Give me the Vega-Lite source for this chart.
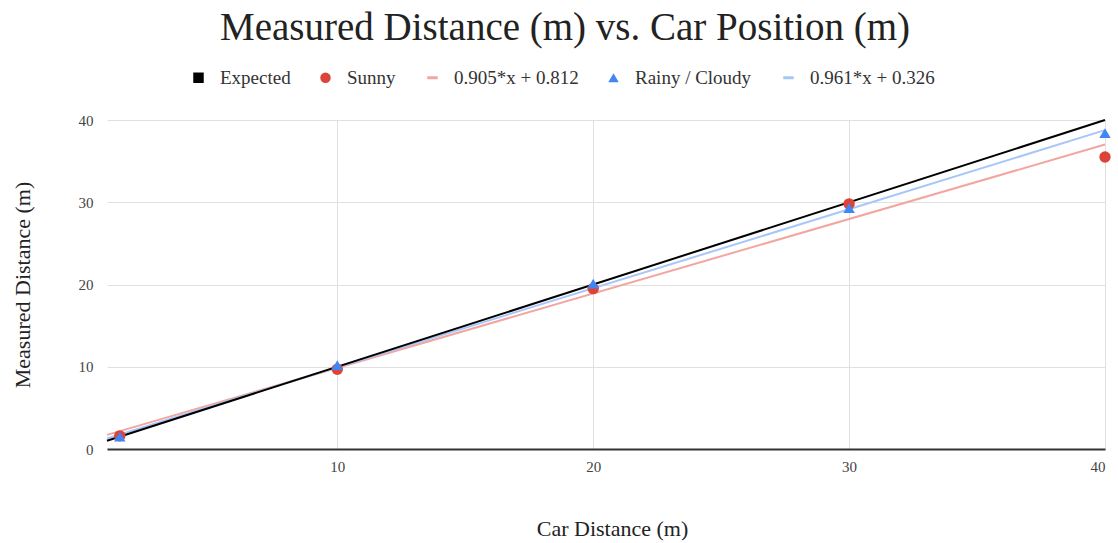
{
  "$schema": "https://vega.github.io/schema/vega-lite/v6.json",
  "autosize": {"type": "none"},
  "padding": {"left": 107, "top": 120, "right": 13, "bottom": 94},
  "width": 998,
  "height": 329,
  "background": "white",
  "title": {
    "text": "Measured Distance (m) vs. Car Position (m)",
    "font": "Liberation Serif",
    "fontSize": 39,
    "fontWeight": "normal",
    "color": "#222222",
    "anchor": "middle",
    "frame": "group",
    "dx": -41,
    "baseline": "alphabetic",
    "offset": -11
  },
  "config": {
    "view": {"stroke": null},
    "axis": {
      "labelFont": "Liberation Serif",
      "titleFont": "Liberation Serif",
      "labelFontSize": 15,
      "titleFontSize": 22,
      "titleFontWeight": "normal",
      "labelColor": "#444444",
      "titleColor": "#222222",
      "gridColor": "#e0e0e0",
      "gridWidth": 1,
      "ticks": false
    },
    "legend": {
      "labelFont": "Liberation Serif",
      "labelFontSize": 19,
      "labelColor": "#333333"
    }
  },
  "datasets": {
    "points": [
      {"x": 1.5, "y": 1.6, "series": "Sunny"},
      {"x": 10, "y": 9.7, "series": "Sunny"},
      {"x": 20, "y": 19.5, "series": "Sunny"},
      {"x": 30, "y": 29.8, "series": "Sunny"},
      {"x": 40, "y": 35.5, "series": "Sunny"},
      {"x": 1.5, "y": 1.5, "series": "Rainy / Cloudy"},
      {"x": 10, "y": 10.2, "series": "Rainy / Cloudy"},
      {"x": 20, "y": 20.1, "series": "Rainy / Cloudy"},
      {"x": 30, "y": 29.3, "series": "Rainy / Cloudy"},
      {"x": 40, "y": 38.4, "series": "Rainy / Cloudy"}
    ],
    "lines": [
      {"x": 1, "y": 1.717, "series": "0.905*x + 0.812", "order": 1},
      {"x": 40, "y": 37.012, "series": "0.905*x + 0.812", "order": 1},
      {"x": 1, "y": 1.287, "series": "0.961*x + 0.326", "order": 2},
      {"x": 40, "y": 38.766, "series": "0.961*x + 0.326", "order": 2},
      {"x": 1, "y": 1, "series": "Expected", "order": 3},
      {"x": 40, "y": 40, "series": "Expected", "order": 3}
    ]
  },
  "layer": [
    {
      "data": {"name": "lines"},
      "mark": {"type": "line", "strokeWidth": 2},
      "encoding": {
        "x": {
          "field": "x", "type": "quantitative",
          "scale": {"domain": [1, 40], "nice": false, "zero": false},
          "axis": {
            "title": "Car Distance (m)",
            "values": [10, 20, 30, 40],
            "labelPadding": 10,
            "domainColor": "#333333",
            "domainWidth": 2,
            "titleY": 79,
            "titleBaseline": "middle",
            "titleX": 505
          }
        },
        "y": {
          "field": "y", "type": "quantitative",
          "scale": {"domain": [0, 40], "nice": false},
          "axis": {
            "title": "Measured Distance (m)",
            "values": [0, 10, 20, 30, 40],
            "domain": false,
            "labelPadding": 14,
            "titleX": -85,
            "titleY": 164.5,
            "titleBaseline": "middle",
            "titleAlign": "center",
            "titleAngle": -90
          }
        },
        "detail": {"field": "series"},
        "order": {"field": "order"},
        "color": {
          "field": "series", "type": "nominal",
          "scale": {
            "domain": ["Expected", "Sunny", "0.905*x + 0.812", "Rainy / Cloudy", "0.961*x + 0.326"],
            "range": ["#000000", "#db4437", "#f2a6a0", "#4285f4", "#a7c6fa"]
          },
          "legend": {
            "orient": "none",
            "direction": "horizontal",
            "legendX": 82,
            "legendY": -52,
            "title": null,
            "symbolSize": 110,
            "columnPadding": 25,
            "labelOffset": 12,
            "encode": {
              "symbols": {
                "update": {
                  "shape": {"signal": "datum.value == 'Expected' ? 'square' : datum.value == 'Sunny' ? 'circle' : datum.value == 'Rainy / Cloudy' ? 'triangle-up' : 'stroke'"},
                  "fill": {"signal": "(datum.value == 'Expected' || datum.value == 'Sunny' || datum.value == 'Rainy / Cloudy') ? scale('color', datum.value) : 'transparent'"},
                  "stroke": {"signal": "scale('color', datum.value)"},
                  "strokeWidth": {"signal": "(datum.value == 'Expected' || datum.value == 'Sunny' || datum.value == 'Rainy / Cloudy') ? 0 : 3"},
                  "opacity": {"value": 1}
                }
              }
            }
          }
        }
      }
    },
    {
      "data": {"name": "points"},
      "mark": {"type": "point", "filled": true, "size": 130, "opacity": 1},
      "encoding": {
        "x": {"field": "x", "type": "quantitative"},
        "y": {"field": "y", "type": "quantitative"},
        "color": {"field": "series", "type": "nominal"},
        "shape": {
          "field": "series", "type": "nominal",
          "scale": {"domain": ["Sunny", "Rainy / Cloudy"], "range": ["circle", "triangle-up"]},
          "legend": null
        }
      }
    }
  ]
}
